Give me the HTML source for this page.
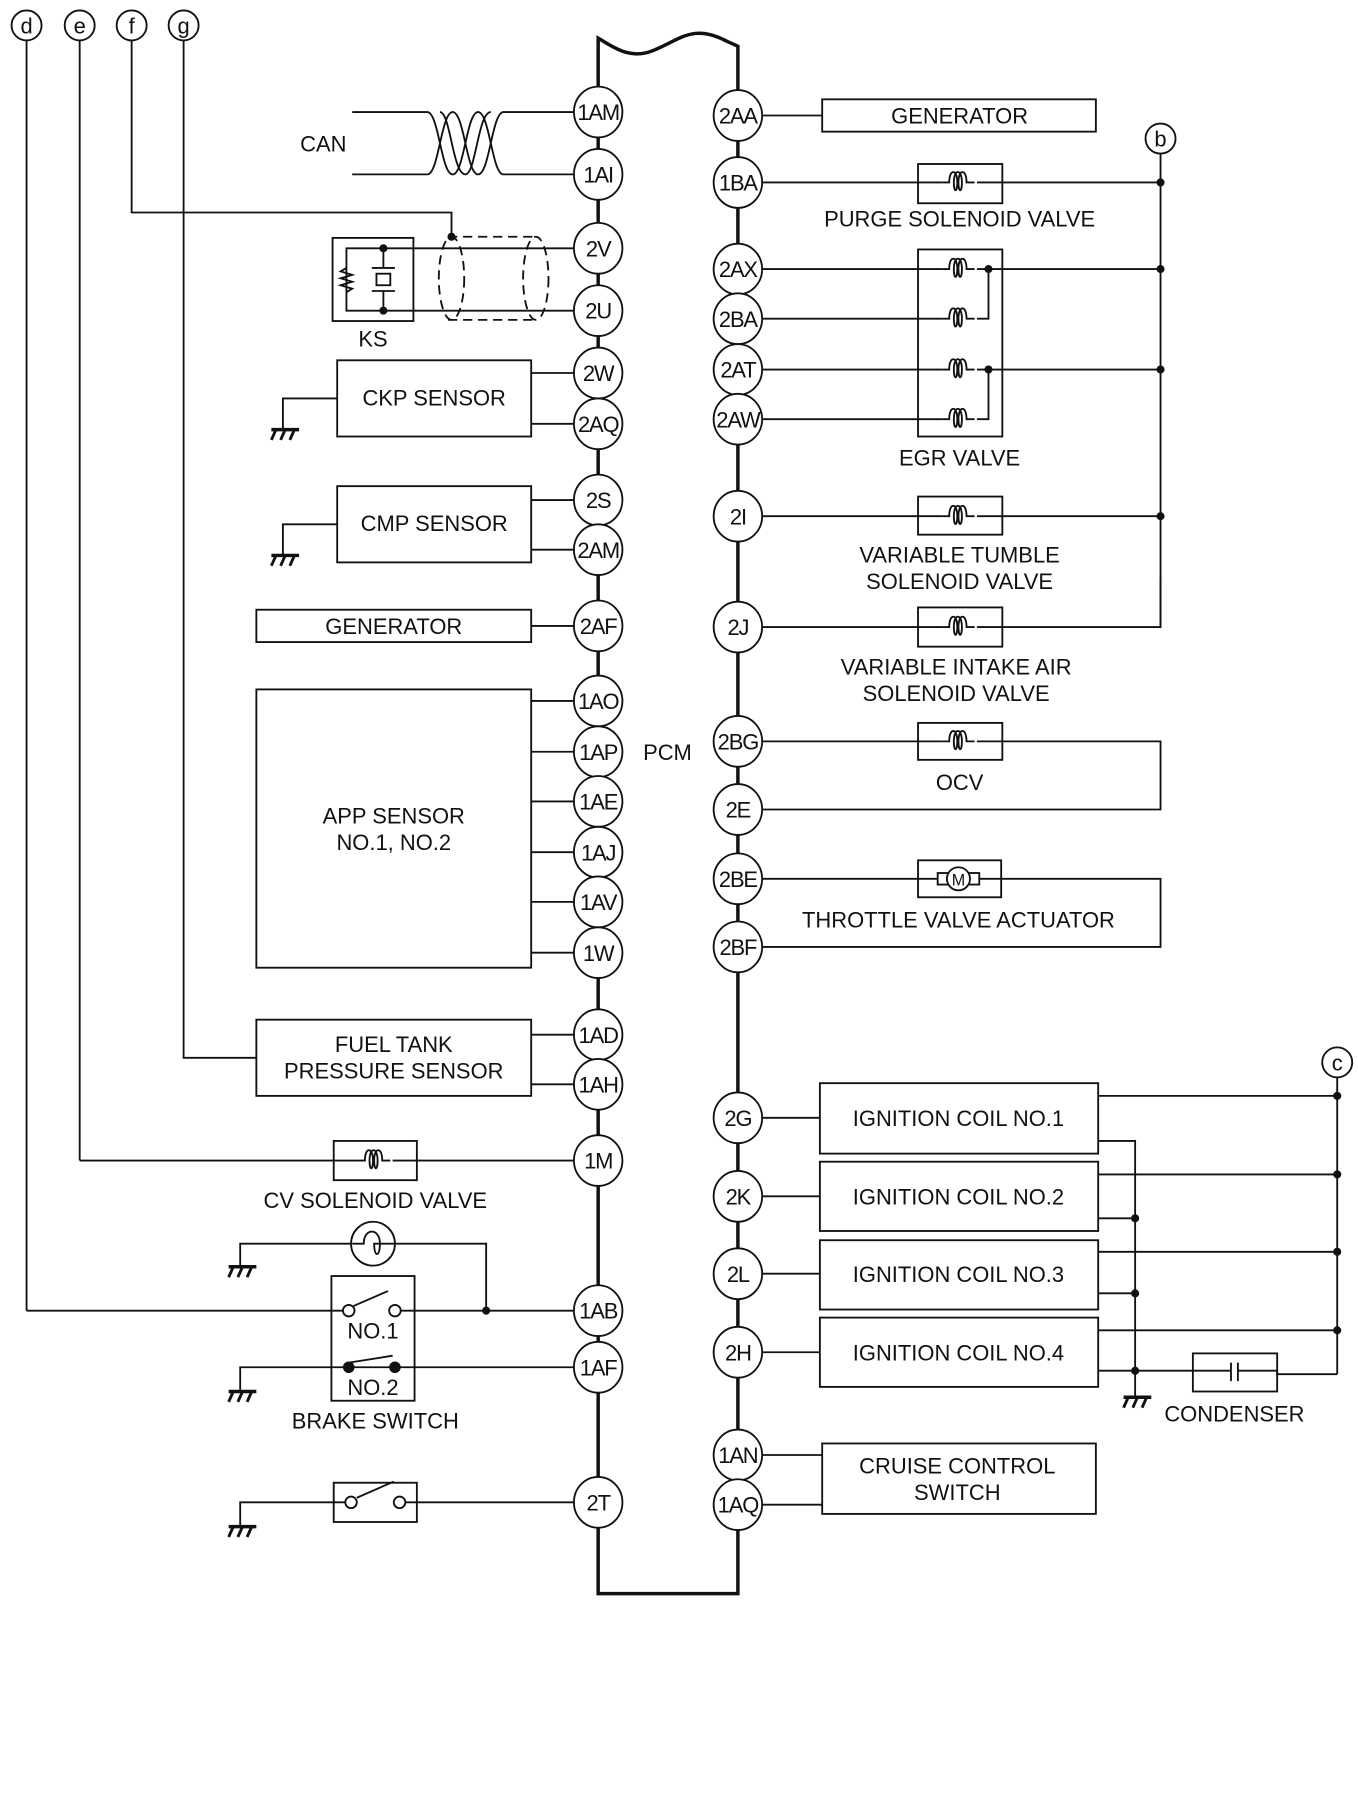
<!DOCTYPE html>
<html><head><meta charset="utf-8"><style>
html,body{margin:0;padding:0;background:#fff}
svg{display:block}
text{font-family:"Liberation Sans",sans-serif;font-size:19px;fill:#111}
</style></head><body>
<svg width="1358" height="1813" viewBox="0 0 1176 1570" xmlns="http://www.w3.org/2000/svg">
<defs>
<g id="coil"><rect x="-15" y="-9" width="30" height="16" fill="#fff"/><path d="M-15,0 h6 c0,-12 7,-12 7,0 c0,9 -3,9 -3,0 c0,-12 7,-12 7,0 c0,9 -3,9 -3,0 c0,-12 7,-12 7,0 h7" fill="none" stroke="#111" stroke-width="1.6"/></g>
<g id="gnd"><line x1="-10" y1="0" x2="14" y2="0" stroke="#111" stroke-width="3"/><line x1="-6" y1="0" x2="-10" y2="9" stroke="#111" stroke-width="2.5"/><line x1="2" y1="0" x2="-2" y2="9" stroke="#111" stroke-width="2.5"/><line x1="10" y1="0" x2="6" y2="9" stroke="#111" stroke-width="2.5"/></g>
</defs>
<g fill="none" stroke="#111" stroke-width="1.6">
<path d="M518,1380 V33 C530,40 545,52 565,44 C590,34 600,20 630,36 L639,40 V1380 Z" stroke-width="3"/>
<line x1="23" y1="35" x2="23" y2="1135"/><line x1="69" y1="35" x2="69" y2="1005"/>
<polyline points="114,35 114,184 391,184 391,205"/>
<polyline points="159,35 159,916 222,916"/>
<path d="M305,97 H370 C380,97 382,151 392,151 C402,151 404,97 414,97 C424,97 426,151 436,151 H497"/>
<path d="M305,151 H370 C380,151 382,97 392,97 C402,97 404,151 414,151 C424,151 426,97 436,97 H497"/>
<path d="M381,97 C390,97 392,151 403,151 C412,151 414,97 425,97"/>
<rect x="288" y="206" width="70" height="72"/>
<polyline points="497,215 300,215 300,269 497,269"/>
<line x1="332" y1="215" x2="332" y2="232"/><line x1="332" y1="252" x2="332" y2="269"/>
<line x1="322" y1="232" x2="342" y2="232"/><line x1="322" y1="252" x2="342" y2="252"/>
<rect x="326" y="237" width="12" height="10"/>
<path d="M300,232 l-5,3 10,3 -10,3 10,3 -10,3 10,3 -5,3"/>
<g stroke-dasharray="8,5"><line x1="388" y1="205" x2="462" y2="205"/><line x1="388" y1="277" x2="462" y2="277"/>
<ellipse cx="391" cy="241" rx="11" ry="36"/><ellipse cx="464" cy="241" rx="11" ry="36"/></g>
<rect x="292" y="312" width="168" height="66"/>
<line x1="460" y1="323" x2="497" y2="323"/><line x1="460" y1="367" x2="497" y2="367"/>
<polyline points="292,345 245,345 245,372"/>
<rect x="292" y="421" width="168" height="66"/>
<line x1="460" y1="433" x2="497" y2="433"/><line x1="460" y1="476" x2="497" y2="476"/>
<polyline points="292,454 245,454 245,481"/>
<rect x="222" y="528" width="238" height="28"/><line x1="460" y1="542" x2="497" y2="542"/>
<rect x="222" y="597" width="238" height="241"/>
<line x1="460" y1="607" x2="497" y2="607"/><line x1="460" y1="651" x2="497" y2="651"/><line x1="460" y1="694" x2="497" y2="694"/>
<line x1="460" y1="738" x2="497" y2="738"/><line x1="460" y1="781" x2="497" y2="781"/><line x1="460" y1="825" x2="497" y2="825"/>
<rect x="222" y="883" width="238" height="66"/>
<line x1="460" y1="896" x2="497" y2="896"/><line x1="460" y1="939" x2="497" y2="939"/>
<rect x="289" y="988" width="72" height="34"/><line x1="69" y1="1005" x2="497" y2="1005"/>
<polyline points="208,1097 208,1077 304,1077"/><circle cx="323" cy="1077" r="19"/><polyline points="342,1077 421,1077 421,1135"/>
<path d="M305,1077 h10 c0,-14 14,-14 14,0 c0,12 -5,12 -5,0 h18"/>
<rect x="287" y="1105" width="72" height="108"/>
<line x1="23" y1="1135" x2="297" y2="1135"/><line x1="347" y1="1135" x2="497" y2="1135"/>
<line x1="306" y1="1131" x2="336" y2="1118"/>
<circle cx="302" cy="1135" r="5" fill="#fff"/><circle cx="342" cy="1135" r="5" fill="#fff"/>
<polyline points="208,1205 208,1184 497,1184"/><line x1="302" y1="1180" x2="340" y2="1174"/>
<rect x="289" y="1284" width="72" height="34"/>
<polyline points="208,1322 208,1301 299,1301"/><line x1="351" y1="1301" x2="497" y2="1301"/>
<line x1="309" y1="1297" x2="341" y2="1283"/>
<circle cx="304" cy="1301" r="5" fill="#fff"/><circle cx="346" cy="1301" r="5" fill="#fff"/>
<rect x="712" y="86" width="237" height="28"/><line x1="660" y1="100" x2="712" y2="100"/>
<line x1="1005" y1="133" x2="1005" y2="543"/>
<rect x="795" y="142" width="73" height="34"/><line x1="660" y1="158" x2="1005" y2="158"/>
<rect x="795" y="216" width="73" height="162"/>
<line x1="660" y1="233" x2="1005" y2="233"/><line x1="660" y1="320" x2="1005" y2="320"/>
<polyline points="660,276 856,276 856,233"/><polyline points="660,363 856,363 856,320"/>
<rect x="795" y="430" width="73" height="33"/><line x1="660" y1="447" x2="1005" y2="447"/>
<rect x="795" y="526" width="73" height="34"/><polyline points="660,543 1005,543 1005,500"/>
<rect x="795" y="626" width="73" height="32"/><polyline points="660,642 1005,642 1005,701 660,701"/>
<rect x="795" y="745" width="72" height="32"/><polyline points="660,761 1005,761 1005,820 660,820"/>
<rect x="710" y="938" width="241" height="61"/><rect x="710" y="1006" width="241" height="60"/>
<rect x="710" y="1074" width="241" height="60"/><rect x="710" y="1141" width="241" height="60"/>
<line x1="660" y1="968" x2="710" y2="968"/><line x1="660" y1="1036" x2="710" y2="1036"/>
<line x1="660" y1="1103" x2="710" y2="1103"/><line x1="660" y1="1171" x2="710" y2="1171"/>
<line x1="1158" y1="933" x2="1158" y2="1190"/>
<line x1="951" y1="949" x2="1158" y2="949"/><line x1="951" y1="1017" x2="1158" y2="1017"/>
<line x1="951" y1="1084" x2="1158" y2="1084"/><line x1="951" y1="1152" x2="1158" y2="1152"/>
<polyline points="951,988 983,988 983,1210"/>
<line x1="951" y1="1055" x2="983" y2="1055"/><line x1="951" y1="1120" x2="983" y2="1120"/><line x1="951" y1="1187" x2="983" y2="1187"/>
<rect x="1033" y="1172" width="73" height="33"/>
<polyline points="983,1187 1066,1187"/><polyline points="1072,1187 1106,1187 1106,1190 1158,1190"/>
<line x1="1066" y1="1180" x2="1066" y2="1196"/><line x1="1072" y1="1180" x2="1072" y2="1196"/>
<rect x="712" y="1250" width="237" height="61"/>
<line x1="660" y1="1260" x2="712" y2="1260"/><line x1="660" y1="1303" x2="712" y2="1303"/>
</g>
<use href="#coil" x="831" y="158"/><use href="#coil" x="831" y="233"/><use href="#coil" x="831" y="276"/>
<use href="#coil" x="831" y="320"/><use href="#coil" x="831" y="363"/><use href="#coil" x="831" y="447"/>
<use href="#coil" x="831" y="543"/><use href="#coil" x="831" y="642"/><use href="#coil" x="325" y="1005"/>
<g fill="#fff" stroke="#111" stroke-width="1.6"><rect x="812" y="756" width="36" height="10"/><circle cx="830" cy="761" r="10"/></g>
<text x="830" y="767" text-anchor="middle" style="font-size:14px">M</text>
<use href="#gnd" x="245" y="372"/><use href="#gnd" x="245" y="481"/><use href="#gnd" x="208" y="1097"/>
<use href="#gnd" x="208" y="1205"/><use href="#gnd" x="208" y="1322"/><use href="#gnd" x="983" y="1210"/>
<g fill="#111"><circle cx="391" cy="205" r="3.5"/><circle cx="332" cy="215" r="3.5"/><circle cx="332" cy="269" r="3.5"/>
<circle cx="421" cy="1135" r="3.5"/><circle cx="302" cy="1184" r="5"/><circle cx="342" cy="1184" r="5"/>
<circle cx="1005" cy="158" r="3.5"/><circle cx="1005" cy="233" r="3.5"/><circle cx="1005" cy="320" r="3.5"/><circle cx="1005" cy="447" r="3.5"/>
<circle cx="856" cy="233" r="3.5"/><circle cx="856" cy="320" r="3.5"/>
<circle cx="1158" cy="949" r="3.5"/><circle cx="1158" cy="1017" r="3.5"/><circle cx="1158" cy="1084" r="3.5"/><circle cx="1158" cy="1152" r="3.5"/>
<circle cx="983" cy="1055" r="3.5"/><circle cx="983" cy="1120" r="3.5"/><circle cx="983" cy="1187" r="3.5"/></g>
<g fill="#fff" stroke="#111" stroke-width="1.6">
<circle cx="23" cy="22" r="13"/><circle cx="69" cy="22" r="13"/><circle cx="114" cy="22" r="13"/><circle cx="159" cy="22" r="13"/>
<circle cx="1005" cy="120" r="13"/><circle cx="1158" cy="920" r="13"/></g>
<g text-anchor="middle">
<text x="23" y="29">d</text><text x="69" y="29">e</text><text x="114" y="29">f</text><text x="159" y="29">g</text>
<text x="1005" y="127">b</text><text x="1158" y="927">c</text></g>
<g fill="#fff" stroke="#111" stroke-width="1.6">
<g transform="translate(518,0)">
<ellipse cy="97" rx="21" ry="22"/><ellipse cy="151" rx="21" ry="22"/><ellipse cy="215" rx="21" ry="22"/><ellipse cy="269" rx="21" ry="22"/>
<ellipse cy="323" rx="21" ry="22"/><ellipse cy="367" rx="21" ry="22"/><ellipse cy="433" rx="21" ry="22"/><ellipse cy="476" rx="21" ry="22"/>
<ellipse cy="542" rx="21" ry="22"/><ellipse cy="607" rx="21" ry="22"/><ellipse cy="651" rx="21" ry="22"/><ellipse cy="694" rx="21" ry="22"/>
<ellipse cy="738" rx="21" ry="22"/><ellipse cy="781" rx="21" ry="22"/><ellipse cy="825" rx="21" ry="22"/><ellipse cy="896" rx="21" ry="22"/>
<ellipse cy="939" rx="21" ry="22"/><ellipse cy="1005" rx="21" ry="22"/><ellipse cy="1135" rx="21" ry="22"/><ellipse cy="1184" rx="21" ry="22"/>
<ellipse cy="1301" rx="21" ry="22"/></g>
<g transform="translate(639,0)">
<ellipse cy="100" rx="21" ry="22"/><ellipse cy="158" rx="21" ry="22"/><ellipse cy="233" rx="21" ry="22"/><ellipse cy="276" rx="21" ry="22"/>
<ellipse cy="320" rx="21" ry="22"/><ellipse cy="363" rx="21" ry="22"/><ellipse cy="447" rx="21" ry="22"/><ellipse cy="543" rx="21" ry="22"/>
<ellipse cy="642" rx="21" ry="22"/><ellipse cy="701" rx="21" ry="22"/><ellipse cy="761" rx="21" ry="22"/><ellipse cy="820" rx="21" ry="22"/>
<ellipse cy="968" rx="21" ry="22"/><ellipse cy="1036" rx="21" ry="22"/><ellipse cy="1103" rx="21" ry="22"/><ellipse cy="1171" rx="21" ry="22"/>
<ellipse cy="1260" rx="21" ry="22"/><ellipse cy="1303" rx="21" ry="22"/></g></g>
<g text-anchor="middle" style="letter-spacing:-1px">
<g transform="translate(518,7)">
<text y="97">1AM</text><text y="151">1AI</text><text y="215">2V</text><text y="269">2U</text><text y="323">2W</text><text y="367">2AQ</text>
<text y="433">2S</text><text y="476">2AM</text><text y="542">2AF</text><text y="607">1AO</text><text y="651">1AP</text><text y="694">1AE</text>
<text y="738">1AJ</text><text y="781">1AV</text><text y="825">1W</text><text y="896">1AD</text><text y="939">1AH</text><text y="1005">1M</text>
<text y="1135">1AB</text><text y="1184">1AF</text><text y="1301">2T</text></g>
<g transform="translate(639,7)">
<text y="100">2AA</text><text y="158">1BA</text><text y="233">2AX</text><text y="276">2BA</text><text y="320">2AT</text><text y="363">2AW</text>
<text y="447">2I</text><text y="543">2J</text><text y="642">2BG</text><text y="701">2E</text><text y="761">2BE</text><text y="820">2BF</text>
<text y="968">2G</text><text y="1036">2K</text><text y="1103">2L</text><text y="1171">2H</text><text y="1260">1AN</text><text y="1303">1AQ</text></g></g>
<g text-anchor="middle">
<text x="280" y="131">CAN</text><text x="323" y="300">KS</text>
<text x="376" y="351">CKP SENSOR</text><text x="376" y="460">CMP SENSOR</text>
<text x="341" y="549">GENERATOR</text>
<text x="341" y="713">APP SENSOR</text><text x="341" y="736">NO.1, NO.2</text>
<text x="341" y="911">FUEL TANK</text><text x="341" y="934">PRESSURE SENSOR</text>
<text x="325" y="1046">CV SOLENOID VALVE</text>
<text x="323" y="1159">NO.1</text><text x="323" y="1208">NO.2</text><text x="325" y="1237">BRAKE SWITCH</text>
<text x="578" y="658">PCM</text>
<text x="831" y="107">GENERATOR</text><text x="831" y="196">PURGE SOLENOID VALVE</text>
<text x="831" y="403">EGR VALVE</text>
<text x="831" y="487">VARIABLE TUMBLE</text><text x="831" y="510">SOLENOID VALVE</text>
<text x="828" y="584">VARIABLE INTAKE AIR</text><text x="828" y="607">SOLENOID VALVE</text>
<text x="831" y="684">OCV</text><text x="830" y="803">THROTTLE VALVE ACTUATOR</text>
<text x="830" y="975">IGNITION COIL NO.1</text><text x="830" y="1043">IGNITION COIL NO.2</text>
<text x="830" y="1110">IGNITION COIL NO.3</text><text x="830" y="1178">IGNITION COIL NO.4</text>
<text x="1069" y="1231">CONDENSER</text>
<text x="829" y="1276">CRUISE CONTROL</text><text x="829" y="1299">SWITCH</text>
</g>
</svg>
</body></html>
